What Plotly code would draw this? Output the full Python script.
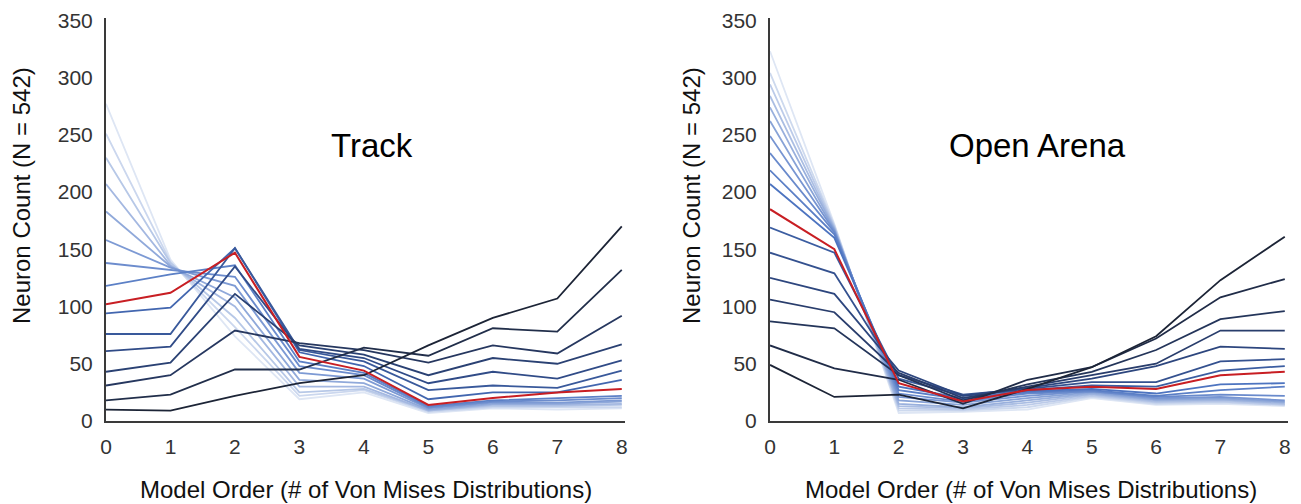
import plotly.graph_objects as go

x_vals = [0, 1, 2, 3, 4, 5, 6, 7, 8]

# Track panel series (dark -> light), red index 7
track_series = [
    [10, 9, 22, 33, 40, 66, 90, 107, 170],
    [18, 23, 45, 45, 64, 57, 81, 78, 132],
    [31, 40, 79, 68, 62, 51, 66, 59, 92],
    [43, 51, 111, 66, 58, 40, 55, 50, 67],
    [61, 65, 135, 63, 55, 33, 43, 37, 53],
    [76, 76, 151, 62, 52, 27, 31, 29, 44],
    [94, 99, 151, 60, 48, 19, 25, 25, 36],
    [102, 112, 147, 56, 44, 14, 20, 25, 28],
    [118, 128, 136, 52, 42, 13, 18, 20, 22],
    [138, 132, 126, 48, 40, 12, 17, 18, 20],
    [158, 134, 118, 42, 37, 11, 16, 16, 18],
    [183, 135, 108, 36, 33, 10, 15, 15, 17],
    [207, 136, 100, 30, 30, 9, 14, 14, 15],
    [230, 138, 90, 25, 28, 9, 13, 13, 14],
    [251, 139, 82, 22, 27, 8, 12, 12, 12],
    [277, 141, 74, 19, 25, 7, 11, 10, 11],
]
track_red = 7

# Open Arena panel series (dark -> light), red index 7
arena_series = [
    [49, 21, 23, 11, 28, 47, 74, 123, 161],
    [66, 46, 36, 15, 36, 47, 72, 108, 124],
    [87, 81, 40, 18, 32, 43, 62, 89, 96],
    [106, 95, 42, 20, 30, 40, 50, 79, 79],
    [125, 111, 44, 22, 29, 37, 48, 65, 63],
    [147, 129, 40, 23, 28, 34, 34, 52, 54],
    [169, 147, 37, 22, 27, 31, 30, 44, 48],
    [185, 150, 33, 17, 27, 30, 28, 40, 43],
    [207, 160, 30, 20, 26, 28, 24, 32, 33],
    [219, 163, 27, 19, 25, 27, 22, 27, 30],
    [234, 165, 24, 17, 24, 26, 21, 23, 22],
    [249, 166, 21, 16, 22, 26, 20, 21, 18],
    [262, 167, 18, 14, 20, 25, 19, 20, 17],
    [274, 168, 15, 12, 18, 24, 18, 19, 16],
    [284, 169, 13, 11, 16, 23, 17, 18, 15],
    [294, 170, 11, 10, 14, 22, 16, 17, 14],
    [304, 171, 9, 9, 12, 21, 15, 16, 14],
    [323, 172, 7, 8, 10, 20, 14, 15, 13],
]
arena_red = 7

panel_titles = ["Track", "Open Arena"]
x_title = "Model Order (# of Von Mises Distributions)"
y_title = "Neuron Count (N = 542)"
y_ticks = [0, 50, 100, 150, 200, 250, 300, 350]

stops = [
    (0.0, (28, 36, 54)),
    (0.25, (46, 72, 130)),
    (0.45, (72, 112, 190)),
    (0.65, (120, 150, 210)),
    (1.0, (222, 230, 244)),
]


def color_at(t):
    for (t0, c0), (t1, c1) in zip(stops[:-1], stops[1:]):
        if t <= t1:
            f = (t - t0) / (t1 - t0) if t1 > t0 else 0
            c = [round(a + (b - a) * f) for a, b in zip(c0, c1)]
            return f"rgb({c[0]},{c[1]},{c[2]})"
    c = stops[-1][1]
    return f"rgb({c[0]},{c[1]},{c[2]})"


fig = go.Figure()


def add_panel(series, red_idx, xa, ya):
    n = len(series)
    order = list(range(n - 1, -1, -1))
    for i in order:
        if i == red_idx:
            continue
        fig.add_trace(go.Scatter(
            x=x_vals, y=series[i], mode="lines", xaxis=xa, yaxis=ya,
            line=dict(color=color_at(i / (n - 1)), width=1.8),
            showlegend=False, hoverinfo="skip"))
    fig.add_trace(go.Scatter(
        x=x_vals, y=series[red_idx], mode="lines", xaxis=xa, yaxis=ya,
        line=dict(color="rgb(200,30,35)", width=2),
        showlegend=False, hoverinfo="skip"))


add_panel(track_series, track_red, "x", "y")
add_panel(arena_series, arena_red, "x2", "y2")

W, H = 1301, 504
tick_font = dict(family="Liberation Sans, Arial", size=21, color="#333")
ax_common = dict(
    range=[0, 8.05], tickvals=x_vals, ticktext=[str(v) for v in x_vals],
    showgrid=False, zeroline=False, showline=True, linecolor="#3a3a3a",
    linewidth=2, ticks="", ticklabelstandoff=6, tickfont=tick_font,
    fixedrange=True, automargin=False,
)
ay_common = dict(
    range=[0, 352], tickvals=y_ticks,
    showgrid=False, zeroline=False, showline=True, linecolor="#3a3a3a",
    linewidth=2, ticks="", ticklabelstandoff=7, tickfont=tick_font,
    fixedrange=True, automargin=False,
)

y_dom = [83 / H, 486 / H]
fig.update_layout(
    width=W, height=H,
    margin=dict(l=0, r=0, t=0, b=0, pad=0, autoexpand=False),
    paper_bgcolor="white", plot_bgcolor="white",
    xaxis=dict(ax_common, domain=[106 / W, 625 / W], anchor="y"),
    yaxis=dict(ay_common, domain=y_dom, anchor="x"),
    xaxis2=dict(ax_common, domain=[770 / W, 1288 / W], anchor="y2"),
    yaxis2=dict(ay_common, domain=y_dom, anchor="x2"),
)

font_lbl = dict(family="Liberation Sans, Arial", size=24, color="#111")
annots = [
    dict(x=366 / W, y=1 - 489 / H, text=x_title),
    dict(x=1031 / W, y=1 - 489 / H, text=x_title),
    dict(x=22 / W, y=1 - 196 / H, text=y_title, textangle=-90),
    dict(x=692 / W, y=1 - 196 / H, text=y_title, textangle=-90),
]
for a in annots:
    fig.add_annotation(xref="paper", yref="paper", showarrow=False,
                       xanchor="center", yanchor="middle", font=font_lbl, **a)

for xp, txt in [(372, panel_titles[0]), (1037, panel_titles[1])]:
    fig.add_annotation(xref="paper", yref="paper", x=xp / W, y=1 - 145 / H,
                       text=txt, showarrow=False, xanchor="center", yanchor="middle",
                       font=dict(family="Liberation Sans, Arial", size=33, color="#000"))

fig.write_html("out.html")
